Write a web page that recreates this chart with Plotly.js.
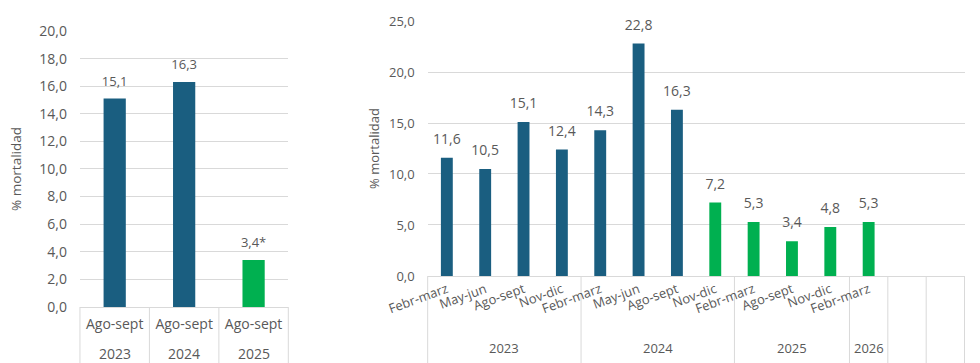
<!DOCTYPE html>
<html>
<head>
<meta charset="utf-8">
<script src="https://cdn.plot.ly/plotly-3.0.1.min.js"></script>
<style>
  html, body { margin: 0; padding: 0; background: #ffffff; }
  #chart { width: 980px; height: 363px; }
</style>
</head>
<body>
<div id="chart"></div>
<script>
// Mortality (%) for the August–September window, one bar per year
const leftYears = ['2023', '2024', '2025'];
const leftPeriods = ['Ago-sept', 'Ago-sept', 'Ago-sept'];
const leftBefore = [15.1, 16.3, null];
const leftAfter = [null, null, 3.4];
const leftNotes = ['', '', '*'];

// Mortality (%) per sampling period, grouped by year (two spare slots at the end)
const rightYears = ['2023', '2023', '2023', '2023',
                    '2024', '2024', '2024', '2024',
                    '2025', '2025', '2025',
                    '2026', null, null];
const rightPeriods = ['Febr-marz', 'May-jun', 'Ago-sept', 'Nov-dic',
                      'Febr-marz', 'May-jun', 'Ago-sept', 'Nov-dic',
                      'Febr-marz', 'Ago-sept', 'Nov-dic',
                      'Febr-marz', '', ''];
const rightBefore = [11.6, 10.5, 15.1, 12.4, 14.3, 22.8, 16.3, null, null, null, null, null, null, null];
const rightAfter = [null, null, null, null, null, null, null, 7.2, 5.3, 3.4, 4.8, 5.3, null, null];

const BLUE = '#1a5e80';
const GREEN = '#00b050';
const TEXT = '#595959';
const GRID = '#d9d9d9';
const FONT = 'Open Sans, Noto Sans, sans-serif';

// merge the two phases into one value list for the labels
function merged(a, b) {
  return a.map((v, i) => (v !== null ? v : b[i]));
}

function slots(list) {
  return list.map((_, i) => i);
}

function barTrace(values, color, width, xa, ya) {
  return {
    type: 'bar',
    x: slots(values),
    y: values,
    width: width,
    marker: { color: color, line: { width: 0 } },
    xaxis: xa, yaxis: ya,
    hoverinfo: 'skip'
  };
}

function labelTrace(values, notes, fontSize, gap, xa, ya) {
  return {
    type: 'scatter',
    mode: 'markers+text',
    x: slots(values),
    y: values,
    texttemplate: notes.map(n => '%{y:.1f}' + n),
    textposition: 'top center',
    textfont: { family: FONT, size: fontSize, color: TEXT },
    marker: { size: gap, color: 'rgba(0,0,0,0)' },
    xaxis: xa, yaxis: ya,
    hoverinfo: 'skip',
    cliponaxis: false
  };
}

// runs of the same year form one group; spare (null) slots stand alone
function yearGroups(years) {
  const groups = [];
  years.forEach((y, i) => {
    const last = groups[groups.length - 1];
    if (y !== null && last && last.label === y) last.end = i;
    else groups.push({ label: y, start: i, end: i });
  });
  return groups;
}

// year row under the period labels, plus the vertical separators between groups
function yearRow(years, xa, axisY, rowY, fontSize) {
  const groups = yearGroups(years);
  const annotations = groups.filter(g => g.label !== null).map(g => ({
    xref: xa, yref: 'paper',
    x: (g.start + g.end) / 2, y: rowY,
    text: g.label, showarrow: false,
    xanchor: 'center', yanchor: 'middle',
    font: { family: FONT, size: fontSize, color: TEXT }
  }));
  const sep = (xref, x) => ({
    type: 'line', xref: xref, yref: 'paper',
    x0: x, x1: x, y0: axisY, y1: 0,
    line: { color: GRID, width: 1 }, layer: 'below'
  });
  const shapes = [sep(xa + ' domain', 0)];
  groups.slice(1).forEach(g => shapes.push(sep(xa, g.start - 0.5)));
  shapes.push(sep(xa + ' domain', 1));
  return { annotations, shapes };
}

const leftValues = merged(leftBefore, leftAfter);
const rightValues = merged(rightBefore, rightAfter);
const rightNotes = rightValues.map(() => '');

const data = [
  barTrace(leftBefore, BLUE, 0.32, 'x', 'y'),
  barTrace(leftAfter, GREEN, 0.32, 'x', 'y'),
  labelTrace(leftValues, leftNotes, 13, 14, 'x', 'y'),
  barTrace(rightBefore, BLUE, 0.31, 'x2', 'y2'),
  barTrace(rightAfter, GREEN, 0.31, 'x2', 'y2'),
  labelTrace(rightValues, rightNotes, 14, 15, 'x2', 'y2')
];

const LEFT_Y_DOMAIN = [0.1543, 0.9146];
const RIGHT_Y_DOMAIN = [0.2397, 0.9421];

const leftRow = yearRow(leftYears, 'x', LEFT_Y_DOMAIN[0], 0.0248, 14);
const rightRow = yearRow(rightYears, 'x2', RIGHT_Y_DOMAIN[0], 0.0413, 13);

function xAxis(periods, domain, anchor, fontSize, extra) {
  return Object.assign({
    type: 'linear',
    domain: domain,
    anchor: anchor,
    range: [-0.5, periods.length - 0.5],
    tickmode: 'array',
    tickvals: slots(periods),
    ticktext: periods,
    showline: true,
    linecolor: GRID,
    linewidth: 1,
    showgrid: false,
    zeroline: false,
    ticks: '',
    tickfont: { family: FONT, size: fontSize, color: TEXT },
    fixedrange: true
  }, extra);
}

function yAxis(domain, anchor, range, dtick, fontSize, labelGap, titleSize, titleGap) {
  return {
    domain: domain,
    anchor: anchor,
    range: range,
    dtick: dtick,
    tickformat: '.1f',
    gridcolor: GRID,
    gridwidth: 1,
    zeroline: false,
    showline: false,
    ticks: '',
    ticklabelstandoff: labelGap,
    tickfont: { family: FONT, size: fontSize, color: TEXT },
    title: { text: '% mortalidad', standoff: titleGap, font: { family: FONT, size: titleSize, color: TEXT } },
    fixedrange: true
  };
}

const layout = {
  width: 980,
  height: 363,
  margin: { l: 0, r: 0, t: 0, b: 0 },
  paper_bgcolor: '#ffffff',
  plot_bgcolor: '#ffffff',
  separators: ',.',
  showlegend: false,
  barmode: 'overlay',
  font: { family: FONT, size: 13, color: TEXT },
  xaxis: xAxis(leftPeriods, [0.0816, 0.2942], 'y', 14, { ticklabelstandoff: 4 }),
  yaxis: yAxis(LEFT_Y_DOMAIN, 'x', [0, 20], 2, 14, 12, 13.5, 14),
  xaxis2: xAxis(rightPeriods, [0.4364, 0.9842], 'y2', 13, { tickangle: -20 }),
  yaxis2: yAxis(RIGHT_Y_DOMAIN, 'x2', [0, 25], 5, 13, 12, 13, 6),
  annotations: leftRow.annotations.concat(rightRow.annotations),
  shapes: leftRow.shapes.concat(rightRow.shapes)
};

Plotly.newPlot('chart', data, layout, { displayModeBar: false, staticPlot: true });
</script>
</body>
</html>
